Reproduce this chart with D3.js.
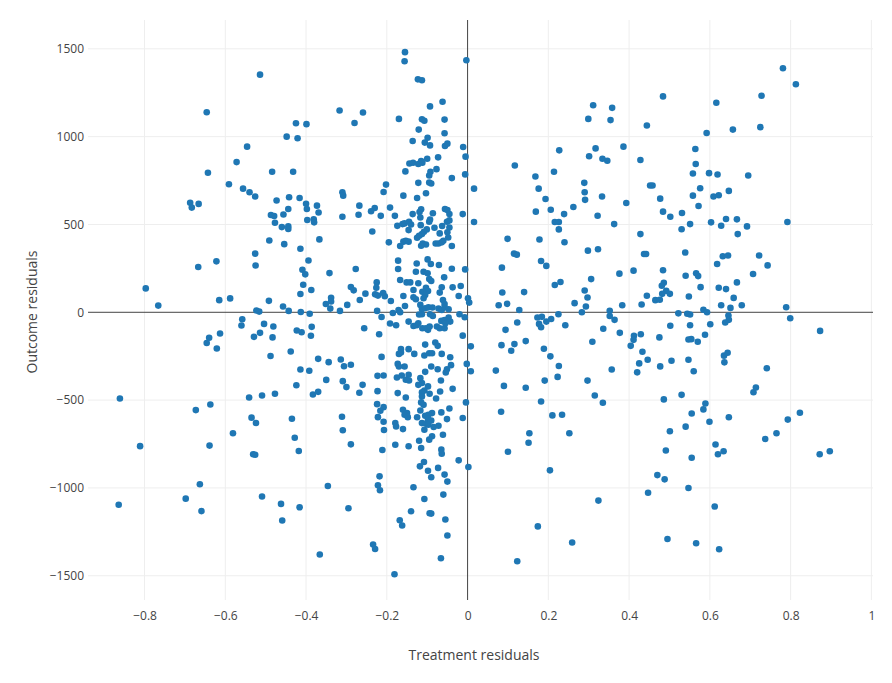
<!DOCTYPE html>
<html lang="en">
<head>
    <meta charset="UTF-8">
    <title>Residuals scatter</title>
    <style>
        body { margin: 0; background: #fff; }
        * { font-family: 'Open Sans', Verdana, Arial, sans-serif; }
        .tick text { fill: #444; font-size: 12px; }
        .axis-title { fill: #444; font-size: 14px; }
    </style>
</head>
<body>
    <div id="container"></div>
    <script src="https://d3js.org/d3.v7.min.js"></script>
    <script>
        // points, one array per region: [treatment residual, outcome residual]
        const farLeftUpper = [[-0.514,1353],[-0.646,1139],[-0.546,943],[-0.572,855],[-0.643,794],[-0.484,800],[-0.591,729],[-0.556,704],[-0.540,683],[-0.526,659],[-0.473,636],[-0.687,624],[-0.683,596],[-0.666,617],[-0.487,554],[-0.479,548],[-0.456,557],[-0.477,510],[-0.460,485],[-0.491,409],[-0.454,388],[-0.526,334],[-0.525,266],[-0.622,290],[-0.667,258],[-0.797,136],[-0.766,38],[-0.615,69],[-0.588,79],[-0.492,65],[-0.457,33],[-0.523,10],[-0.516,4]];
        const farLeftLower = [[-0.558,-40],[-0.560,-75],[-0.504,-66],[-0.481,-81],[-0.514,-117],[-0.529,-140],[-0.483,-143],[-0.613,-121],[-0.640,-145],[-0.646,-175],[-0.621,-206],[-0.488,-249],[-0.861,-491],[-0.541,-485],[-0.509,-474],[-0.477,-464],[-0.637,-525],[-0.673,-557],[-0.535,-600],[-0.524,-630],[-0.581,-689],[-0.811,-762],[-0.639,-759],[-0.531,-808],[-0.526,-811],[-0.663,-979],[-0.698,-1061],[-0.864,-1096],[-0.659,-1132],[-0.509,-1049],[-0.462,-1091],[-0.459,-1185]];
        const midLeftTop = [[-0.317,1149],[-0.259,1137],[-0.280,1078],[-0.425,1076],[-0.399,1071],[-0.448,1000],[-0.421,991],[-0.432,800],[-0.202,727],[-0.208,685],[-0.310,683],[-0.308,664],[-0.442,655],[-0.416,651],[-0.400,618],[-0.398,588],[-0.373,607],[-0.444,588],[-0.268,607],[-0.230,594],[-0.239,575],[-0.192,596]];
        const midLeftMiddle = [[-0.369,568],[-0.310,544],[-0.270,555],[-0.215,549],[-0.180,549],[-0.397,525],[-0.381,529],[-0.380,512],[-0.444,489],[-0.444,474],[-0.174,492],[-0.236,460],[-0.367,415],[-0.414,362],[-0.195,398],[-0.394,295],[-0.409,242],[-0.402,216],[-0.342,223],[-0.277,246],[-0.172,294],[-0.172,246],[-0.407,157],[-0.387,127],[-0.414,104],[-0.289,144],[-0.282,125],[-0.225,170],[-0.226,140],[-0.229,102],[-0.222,95],[-0.209,110],[-0.205,91],[-0.253,106],[-0.267,70],[-0.338,83],[-0.338,61],[-0.351,47],[-0.340,21],[-0.298,42],[-0.316,8],[-0.443,8],[-0.413,2],[-0.391,-8],[-0.190,64],[-0.224,8],[-0.213,-27],[-0.185,-4],[-0.171,13],[-0.192,-64],[-0.177,-74],[-0.423,-104],[-0.411,-114],[-0.386,-83],[-0.388,-134],[-0.256,-91],[-0.219,-125],[-0.438,-223],[-0.370,-265],[-0.344,-284],[-0.314,-269],[-0.306,-307],[-0.289,-299],[-0.213,-254],[-0.173,-294],[-0.414,-326],[-0.392,-333],[-0.223,-362],[-0.208,-360],[-0.175,-371],[-0.350,-385],[-0.309,-392],[-0.300,-426],[-0.260,-413],[-0.424,-415],[-0.383,-468],[-0.370,-453],[-0.268,-458],[-0.223,-449],[-0.173,-460],[-0.224,-523],[-0.208,-540]];
        const midLeftBottom = [[-0.216,-561],[-0.222,-597],[-0.208,-623],[-0.207,-670],[-0.179,-631],[-0.177,-650],[-0.311,-595],[-0.309,-672],[-0.435,-606],[-0.428,-714],[-0.418,-790],[-0.289,-752],[-0.211,-784],[-0.179,-754],[-0.218,-934],[-0.222,-985],[-0.217,-1013],[-0.346,-989],[-0.416,-1110],[-0.295,-1116],[-0.234,-1322],[-0.229,-1348],[-0.366,-1379],[-0.181,-1491]];
        const nearZeroTop = [[-0.155,1481],[-0.156,1429],[-0.003,1435],[-0.123,1326],[-0.113,1321],[-0.093,1172],[-0.062,1199],[-0.170,1101],[-0.113,1099],[-0.107,1090],[-0.057,1097],[-0.121,1040],[-0.057,1019],[-0.136,975],[-0.099,994],[-0.106,966],[-0.093,950],[-0.056,947],[-0.050,960],[-0.011,941],[-0.005,886],[-0.073,882],[-0.100,874],[-0.115,861],[-0.112,851],[-0.122,844],[-0.144,847],[-0.135,851],[-0.154,802],[-0.092,800],[-0.095,779],[-0.077,815],[-0.006,785],[-0.039,764],[-0.122,737],[-0.095,739],[-0.090,733],[-0.159,664],[-0.125,651],[-0.103,678],[-0.115,586],[-0.119,571],[-0.056,588],[-0.050,582]];
        const nearZeroMiddle = [[-0.136,559],[-0.117,540],[-0.086,564],[-0.045,559],[-0.012,559],[-0.161,502],[-0.156,506],[-0.145,515],[-0.140,500],[-0.116,496],[-0.095,515],[-0.093,528],[-0.082,481],[-0.063,491],[-0.051,515],[-0.045,523],[-0.045,483],[-0.146,468],[-0.101,472],[-0.108,458],[-0.113,445],[-0.120,436],[-0.125,424],[-0.069,449],[-0.050,456],[-0.048,426],[-0.159,402],[-0.153,407],[-0.146,402],[-0.167,377],[-0.111,392],[-0.103,386],[-0.115,379],[-0.079,392],[-0.072,392],[-0.060,407],[-0.064,398],[-0.039,377],
            [-0.126,278],[-0.099,301],[-0.091,275],[-0.071,269],[-0.128,231],[-0.109,231],[-0.099,222],[-0.039,248],[-0.006,244],[-0.058,199],[-0.095,189],[-0.090,178],[-0.167,184],[-0.151,170],[-0.142,170],[-0.122,165],[-0.103,140],[-0.134,127],[-0.098,121],[-0.112,117],[-0.105,98],[-0.064,142],[-0.069,112],[-0.037,142],[-0.017,150],[-0.159,93],[-0.134,85],[-0.128,74],[-0.109,80],[-0.061,70],[-0.057,47],[-0.022,93],[0.001,80],[0.004,55],
            [-0.155,36],[-0.167,0],[-0.117,42],[-0.113,19],[-0.105,23],[-0.097,28],[-0.087,27],[-0.072,21],[-0.064,13],[-0.057,28],[-0.047,17],[-0.113,-11],[-0.120,-13],[-0.093,-11],[-0.086,-21],[-0.020,-11],[-0.007,-28],
            [-0.146,-53],[-0.134,-78],[-0.126,-74],[-0.122,-63],[-0.112,-91],[-0.103,-91],[-0.098,-100],[-0.094,-81],[-0.076,-81],[-0.069,-91],[-0.057,-91],[-0.065,-49],[-0.057,-44],[-0.047,-30],[-0.043,-53],[-0.055,-63],
            [-0.012,-133],[-0.105,-184],[-0.080,-172],[-0.074,-191],[-0.165,-210],[-0.165,-229],[-0.146,-210],[-0.170,-237],[-0.132,-237],[-0.107,-246],[-0.095,-233],[-0.088,-233],[-0.064,-237],[-0.043,-256],
            [-0.156,-309],[-0.170,-309],[-0.090,-309],[-0.074,-324],[-0.051,-324],[-0.041,-301],[-0.002,-294],[-0.105,-339],[-0.117,-375],[-0.054,-343],[-0.146,-356],[-0.163,-360],[-0.153,-384],[-0.145,-388],[-0.113,-403],[-0.066,-388],[-0.122,-413],[-0.098,-422],[-0.107,-445],[-0.037,-436],[-0.113,-456],[-0.068,-451],[-0.094,-464],[-0.113,-479],[-0.153,-485],[-0.078,-491],[-0.115,-513],[-0.004,-513],[-0.109,-527],[-0.117,-559],[-0.160,-555],[-0.045,-548]];
        const nearZeroBottom = [[-0.150,-574],[-0.156,-583],[-0.148,-597],[-0.088,-574],[-0.065,-570],[-0.125,-598],[-0.105,-589],[-0.097,-583],[-0.098,-608],[-0.090,-616],[-0.051,-608],[-0.012,-602],[-0.113,-631],[-0.103,-634],[-0.097,-640],[-0.084,-653],[-0.072,-646],[-0.107,-669],[-0.160,-665],[-0.061,-697],[-0.088,-706],[-0.095,-725],[-0.120,-731],[-0.146,-763],[-0.115,-773],[-0.065,-782],[-0.064,-805],[-0.022,-843],[0.002,-881],[-0.108,-852],[-0.118,-877],[-0.098,-902],[-0.073,-886],[-0.057,-924],[-0.090,-939],[-0.050,-964],[-0.134,-996],[-0.060,-1038],[-0.107,-1063],[-0.140,-1133],[-0.094,-1144],[-0.090,-1146],[-0.055,-1180],[-0.168,-1184],[-0.162,-1214],[-0.050,-1271],[-0.066,-1400]];
        const rightUpper = [[0.484,1229],[0.311,1179],[0.358,1164],[0.299,1101],[0.354,1094],[0.444,1063],[0.227,922],[0.317,933],[0.301,888],[0.386,943],[0.334,874],[0.346,863],[0.428,867],[0.117,836],[0.214,800],[0.168,773],[0.016,704],[0.176,704],[0.193,645],[0.289,737],[0.290,683],[0.291,640],[0.333,659],[0.393,622],[0.452,722],[0.458,722],[0.477,647],[0.484,573],[0.206,584],[0.169,573],[0.262,599],[0.239,559],[0.322,550],[0.016,514],[0.216,514],[0.226,514],[0.226,472],[0.363,502],[0.428,445],[0.099,418],[0.178,414],[0.240,399],[0.115,334],[0.122,328],[0.298,351],[0.323,359],[0.437,332],[0.442,332],[0.182,292],[0.195,264],[0.085,254],[0.376,220],[0.411,237],[0.484,239],[0.306,189],[0.216,155],[0.230,172],[0.486,168],[0.481,151],[0.492,122],[0.482,105],[0.290,124],[0.297,84],[0.086,113],[0.140,115],[0.444,94],[0.465,69],[0.476,71],[0.077,40],[0.098,48],[0.128,13],[0.265,52],[0.293,33],[0.383,40],[0.431,44]];
        const rightLower = [[0.283,0],[0.352,9],[0.352,-21],[0.364,-43],[0.225,-11],[0.123,-58],[0.173,-30],[0.184,-26],[0.177,-66],[0.182,-85],[0.195,-53],[0.207,-38],[0.242,-74],[0.094,-100],[0.336,-94],[0.377,-117],[0.412,-134],[0.411,-157],[0.404,-191],[0.429,-125],[0.475,-143],[0.008,-194],[0.084,-187],[0.116,-181],[0.108,-219],[0.144,-164],[0.309,-168],[0.189,-208],[0.205,-251],[0.433,-225],[0.446,-270],[0.425,-291],[0.420,-342],[0.477,-308],[0.008,-336],[0.070,-332],[0.226,-306],[0.223,-368],[0.191,-389],[0.357,-326],[0.297,-389],[0.090,-419],[0.144,-430],[0.315,-474],[0.335,-515],[0.182,-508],[0.486,-496],[0.083,-566],[0.210,-587],[0.234,-583],[0.153,-689],[0.151,-743],[0.252,-689],[0.100,-794],[0.491,-787],[0.204,-900],[0.470,-927],[0.488,-951],[0.447,-1027],[0.324,-1072],[0.174,-1219],[0.259,-1311],[0.495,-1291],[0.123,-1417]];
        const farRightUpper = [[0.781,1389],[0.813,1298],[0.728,1233],[0.616,1193],[0.657,1040],[0.725,1054],[0.592,1021],[0.564,930],[0.565,844],[0.558,790],[0.598,792],[0.619,784],[0.695,779],[0.576,706],[0.647,691],[0.558,664],[0.609,659],[0.622,666],[0.572,605],[0.502,544],[0.531,565],[0.551,502],[0.530,473],[0.603,512],[0.628,493],[0.640,531],[0.667,529],[0.692,489],[0.669,445],[0.792,514],[0.539,340],[0.632,319],[0.645,323],[0.618,275],[0.722,323],[0.743,267],[0.707,218],[0.540,208],[0.566,222],[0.571,206],[0.501,105],[0.577,143],[0.622,140],[0.640,132],[0.667,170],[0.548,90],[0.659,82],[0.628,40],[0.651,25],[0.679,40],[0.789,29],[0.584,14]];
        const farRightLower = [[0.551,-13],[0.593,0],[0.522,-6],[0.544,-8],[0.646,-19],[0.647,-43],[0.638,-58],[0.799,-34],[0.873,-106],[0.502,-77],[0.551,-74],[0.601,-68],[0.588,-128],[0.547,-155],[0.554,-153],[0.570,-168],[0.505,-276],[0.547,-270],[0.560,-336],[0.635,-247],[0.644,-230],[0.636,-285],[0.741,-319],[0.714,-428],[0.708,-455],[0.530,-470],[0.589,-519],[0.584,-553],[0.555,-576],[0.599,-623],[0.647,-598],[0.540,-651],[0.501,-677],[0.793,-611],[0.823,-572],[0.765,-689],[0.737,-721],[0.614,-753],[0.620,-808],[0.634,-791],[0.555,-828],[0.872,-808],[0.897,-791],[0.547,-1000],[0.612,-1106],[0.566,-1315],[0.623,-1349]];

        const xTicks = [-0.8, -0.6, -0.4, -0.2, 0, 0.2, 0.4, 0.6, 0.8, 1];
        const yTicks = [-1500, -1000, -500, 0, 500, 1000, 1500];
        const xTitle = 'Treatment residuals';
        const yTitle = 'Outcome residuals';

        const allPoints = [].concat(farLeftUpper, farLeftLower, midLeftTop, midLeftMiddle, midLeftBottom,
            nearZeroTop, nearZeroMiddle, nearZeroBottom, rightUpper, rightLower, farRightUpper, farRightLower);

        // plot area in page pixels
        const chartW = 892, chartH = 683;
        const plotLeft = 88, plotRight = 873, plotTop = 20, plotBottom = 600;

        const xscale = d3.scaleLinear().domain([-0.94, 1.004]).range([plotLeft, plotRight]);
        const yscale = d3.scaleLinear().domain([-1638, 1664]).range([plotBottom, plotTop]);

        const svg = d3.select('#container').append('svg')
            .attr('width', chartW).attr('height', chartH);

        // grid lines (zero lines drawn separately, darker)
        svg.append('g').selectAll('line').data(xTicks.filter(d => d !== 0)).join('line')
            .attr('x1', d => xscale(d)).attr('x2', d => xscale(d))
            .attr('y1', plotTop).attr('y2', plotBottom)
            .attr('stroke', '#eee').attr('stroke-width', 1);
        svg.append('g').selectAll('line').data(yTicks.filter(d => d !== 0)).join('line')
            .attr('x1', plotLeft).attr('x2', plotRight)
            .attr('y1', d => yscale(d)).attr('y2', d => yscale(d))
            .attr('stroke', '#eee').attr('stroke-width', 1);

        // zero lines
        svg.append('line')
            .attr('x1', xscale(0)).attr('x2', xscale(0)).attr('y1', plotTop).attr('y2', plotBottom)
            .attr('stroke', '#444').attr('stroke-width', 1);
        svg.append('line')
            .attr('x1', plotLeft).attr('x2', plotRight).attr('y1', yscale(0)).attr('y2', yscale(0))
            .attr('stroke', '#444').attr('stroke-width', 1);

        // axes, labels only
        const fmtX = d3.format('~g');
        const fmtY = d3.format('d');
        svg.append('g')
            .attr('transform', `translate(0, ${plotBottom})`)
            .call(d3.axisBottom(xscale).tickValues(xTicks).tickFormat(fmtX).tickSize(0).tickPadding(11))
            .call(g => g.select('.domain').remove());
        svg.append('g')
            .attr('transform', `translate(${plotLeft}, 0)`)
            .call(d3.axisLeft(yscale).tickValues(yTicks).tickFormat(fmtY).tickSize(0).tickPadding(4))
            .call(g => g.select('.domain').remove());
        svg.selectAll('.tick text').attr('font-family', null).attr('font-size', null);

        // the points
        svg.append('g').selectAll('circle').data(allPoints).join('circle')
            .attr('cx', d => xscale(d[0]))
            .attr('cy', d => yscale(d[1]))
            .attr('r', 3.3)
            .attr('fill', '#1f77b4');

        // axis titles
        svg.append('text').attr('class', 'axis-title')
            .attr('x', 474).attr('y', 660)
            .attr('text-anchor', 'middle')
            .text(xTitle);
        svg.append('text').attr('class', 'axis-title')
            .attr('transform', 'translate(37, 312) rotate(-90)')
            .attr('text-anchor', 'middle')
            .text(yTitle);
    </script>
</body>
</html>
